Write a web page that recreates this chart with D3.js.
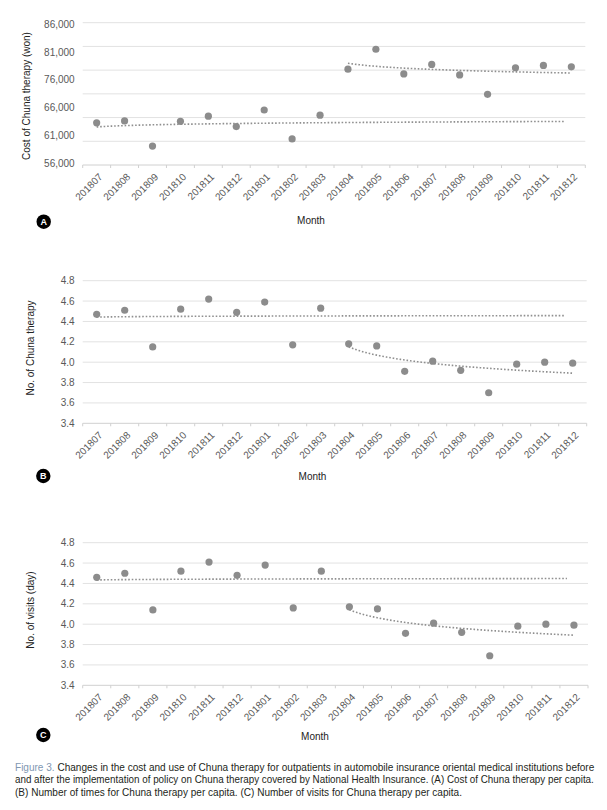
<!DOCTYPE html>
<html>
<head>
<meta charset="utf-8">
<script src="https://cdn.jsdelivr.net/npm/d3@7"></script>
<style>
  html, body { margin: 0; padding: 0; background: #fff; }
  svg { display: block; }
</style>
</head>
<body>
<svg id="chart" width="607" height="810"></svg>
<script>
// ---------------- data ----------------
const months = ["201807","201808","201809","201810","201811","201812","201801","201802","201803",
                "201804","201805","201806","201807","201808","201809","201810","201811","201812"];
const costValues = [64900,65300,60000,65200,66300,64100,67600,61500,66500,
                    76200,80400,75200,77200,75000,70900,76500,77000,76700];
const costGrid = [56000,61000,66000,71000,76000,81000,86000];
const costTickLabels = ["56,000","61,000","66,000","76,000","81,000","86,000"];
const timesValues = [4.47,4.51,4.15,4.52,4.62,4.49,4.59,4.17,4.53,
                     4.18,4.16,3.91,4.01,3.92,3.70,3.98,4.00,3.99];
const visitsValues = [4.46,4.50,4.14,4.52,4.61,4.48,4.58,4.16,4.52,
                      4.17,4.15,3.91,4.01,3.92,3.69,3.98,4.00,3.99];
const countGrid = [3.4,3.6,3.8,4.0,4.2,4.4,4.6,4.8];
const countTickLabels = ["3.4","3.6","3.8","4.0","4.2","4.4","4.6","4.8"];
const preCount = 9;          // months before the policy
const preTrendEnd = 17.75;   // how far the pre-period trend is extended (in periods)
const yTitles = ["Cost of Chuna therapy (won)", "No. of Chuna therapy", "No. of visits (day)"];
const panelLetters = ["A","B","C"];
const xTitle = "Month";
const captionLines = [
  ["Figure 3.", " Changes in the cost and use of Chuna therapy for outpatients in automobile insurance oriental medical institutions before"],
  ["", "and after the implementation of policy on Chuna therapy covered by National Health Insurance. (A) Cost of Chuna therapy per capita."],
  ["", "(B) Number of times for Chuna therapy per capita. (C) Number of visits for Chuna therapy per capita."]
];

// ---------------- layout ----------------
const panels = [
  { values: costValues, domain:[56000,86000], grid: costGrid, labels: costTickLabels, evenLabels: true,
    top: 22.7, bottom: 165, left: 82.7, right: 585.3, titleX: 26, titleY: 96,
    monthX: 311, monthY: 224, circle: [43.7, 221.7] },
  { values: timesValues, domain:[3.4,4.8], grid: countGrid, labels: countTickLabels, evenLabels: false,
    top: 280.7, bottom: 423.3, left: 82.7, right: 586.7, titleX: 30, titleY: 348,
    monthX: 312.5, monthY: 480, circle: [43.3, 476] },
  { values: visitsValues, domain:[3.4,4.8], grid: countGrid, labels: countTickLabels, evenLabels: false,
    top: 542.7, bottom: 685.3, left: 82.7, right: 588, titleX: 30, titleY: 610,
    monthX: 315, monthY: 739.5, circle: [43.3, 735] }
];

const svg = d3.select("#chart");
svg.append("rect").attr("width",607).attr("height",810).attr("fill","#fff");
const FONT = "'Liberation Sans', Arial, Helvetica, sans-serif";

function logFit(vals) {
  const xs = vals.map((d,i)=>Math.log(i+1));
  const mx = d3.mean(xs), my = d3.mean(vals);
  let sxy = 0, sxx = 0;
  xs.forEach((x,i)=>{ sxy += (x-mx)*(vals[i]-my); sxx += (x-mx)*(x-mx); });
  const b = sxy/sxx, a = my - b*mx;
  return t => a + b*Math.log(t);
}

panels.forEach((p, pi) => {
  const g = svg.append("g");
  const x = d3.scaleBand().domain(d3.range(months.length)).range([p.left, p.right]).padding(0);
  const y = d3.scaleLinear().domain(p.domain).range([p.bottom, p.top]);
  const bw = x.bandwidth();

  // gridlines
  g.selectAll("line.grid").data(p.grid).join("line")
    .attr("x1", p.left).attr("x2", p.right)
    .attr("y1", d=>y(d)).attr("y2", d=>y(d))
    .attr("stroke", d => d === p.domain[0] ? "#d0d0d0" : "#e2e2e2")
    .attr("stroke-width", 1);

  // x tick marks at band boundaries
  g.selectAll("line.xt").data(d3.range(months.length+1)).join("line")
    .attr("x1", i=>p.left + i*bw).attr("x2", i=>p.left + i*bw)
    .attr("y1", p.bottom).attr("y2", p.bottom+3)
    .attr("stroke", "#d0d0d0").attr("stroke-width", 1);

  // x tick labels
  g.selectAll("text.xl").data(months).join("text")
    .attr("transform", (d,i)=>`translate(${x(i)+bw/2+4},${p.bottom+10}) rotate(-45)`)
    .attr("text-anchor","end")
    .attr("dy","0.35em")
    .attr("font-family", FONT).attr("font-size", 10).attr("fill","#595959")
    .text(d=>d);

  // y tick labels
  const labelPos = p.evenLabels
    ? d3.scalePoint().domain(p.labels).range([p.bottom-1.5, p.top+1.5])
    : (lab => y(+lab));
  g.selectAll("text.yl").data(p.labels).join("text")
    .attr("x", p.left - 8).attr("y", d=>labelPos(d))
    .attr("dy","0.35em").attr("text-anchor","end")
    .attr("font-family", FONT).attr("font-size", 10).attr("fill","#595959")
    .text(d=>d);

  // trend lines (logarithmic fits of each period)
  const pre = p.values.slice(0, preCount), post = p.values.slice(preCount);
  const fPre = logFit(pre), fPost = logFit(post);
  const c0 = x(0) + bw/2, c1 = x(preCount) + bw/2;
  const preT = d3.range(1, preTrendEnd + 0.001, 0.05);
  const postT = d3.range(1, post.length + 0.001, 0.05);
  const line = d3.line().x(d=>d[0]).y(d=>d[1]);
  g.append("path")
    .attr("d", line(preT.map(t=>[c0 + (t-1)*bw, y(fPre(t))])))
    .attr("fill","none").attr("stroke","#8f8f8f").attr("stroke-width",1.6)
    .attr("stroke-dasharray","1.6,1.9");
  g.append("path")
    .attr("d", line(postT.map(t=>[c1 + (t-1)*bw, y(fPost(t))])))
    .attr("fill","none").attr("stroke","#8f8f8f").attr("stroke-width",1.6)
    .attr("stroke-dasharray","1.6,1.9");

  // points
  g.selectAll("circle.pt").data(p.values).join("circle")
    .attr("cx", (d,i)=>x(i)+bw/2).attr("cy", d=>y(d))
    .attr("r", 3.6).attr("fill", "#8c8c8c");

  // y axis title
  g.append("text")
    .attr("transform", `translate(${p.titleX},${p.titleY}) rotate(-90)`)
    .attr("text-anchor","middle").attr("dy","0.35em")
    .attr("font-family", FONT).attr("font-size", 10).attr("fill","#222")
    .text(yTitles[pi]);

  // x axis title
  g.append("text")
    .attr("x", p.monthX).attr("y", p.monthY)
    .attr("text-anchor","middle")
    .attr("font-family", FONT).attr("font-size", 10).attr("fill","#222")
    .text(xTitle);

  // panel letter
  g.append("circle").attr("cx", p.circle[0]).attr("cy", p.circle[1]).attr("r", 7.2).attr("fill","#000");
  g.append("text").attr("x", p.circle[0]).attr("y", p.circle[1])
    .attr("text-anchor","middle").attr("dy","0.36em")
    .attr("font-family", FONT).attr("font-size", 9).attr("font-weight","bold").attr("fill","#fff")
    .text(panelLetters[pi]);
});

// caption (condensed horizontally so that the first two lines are justified)
const capFont = "'Liberation Sans Narrow', 'Arial Narrow', 'Liberation Sans', sans-serif";
const capY = [770.5, 783, 795.5];
const capWidth = 580;
let kRef = null;
captionLines.forEach((ln, i) => {
  const t = svg.append("text")
    .attr("x", 0).attr("y", 0)
    .attr("font-family", capFont).attr("font-size", 10.5).attr("fill", "#231f20");
  if (ln[0]) t.append("tspan").attr("fill", "#7f97b2").text(ln[0]);
  t.append("tspan").text(ln[1]);
  const w = t.node().getComputedTextLength();
  let k = capWidth / w;
  if (i === 0) kRef = k;
  if (i === 2) k = Math.min(kRef, k);
  t.attr("transform", `translate(15,${capY[i]}) scale(${k},1)`);
});
</script>
</body>
</html>
